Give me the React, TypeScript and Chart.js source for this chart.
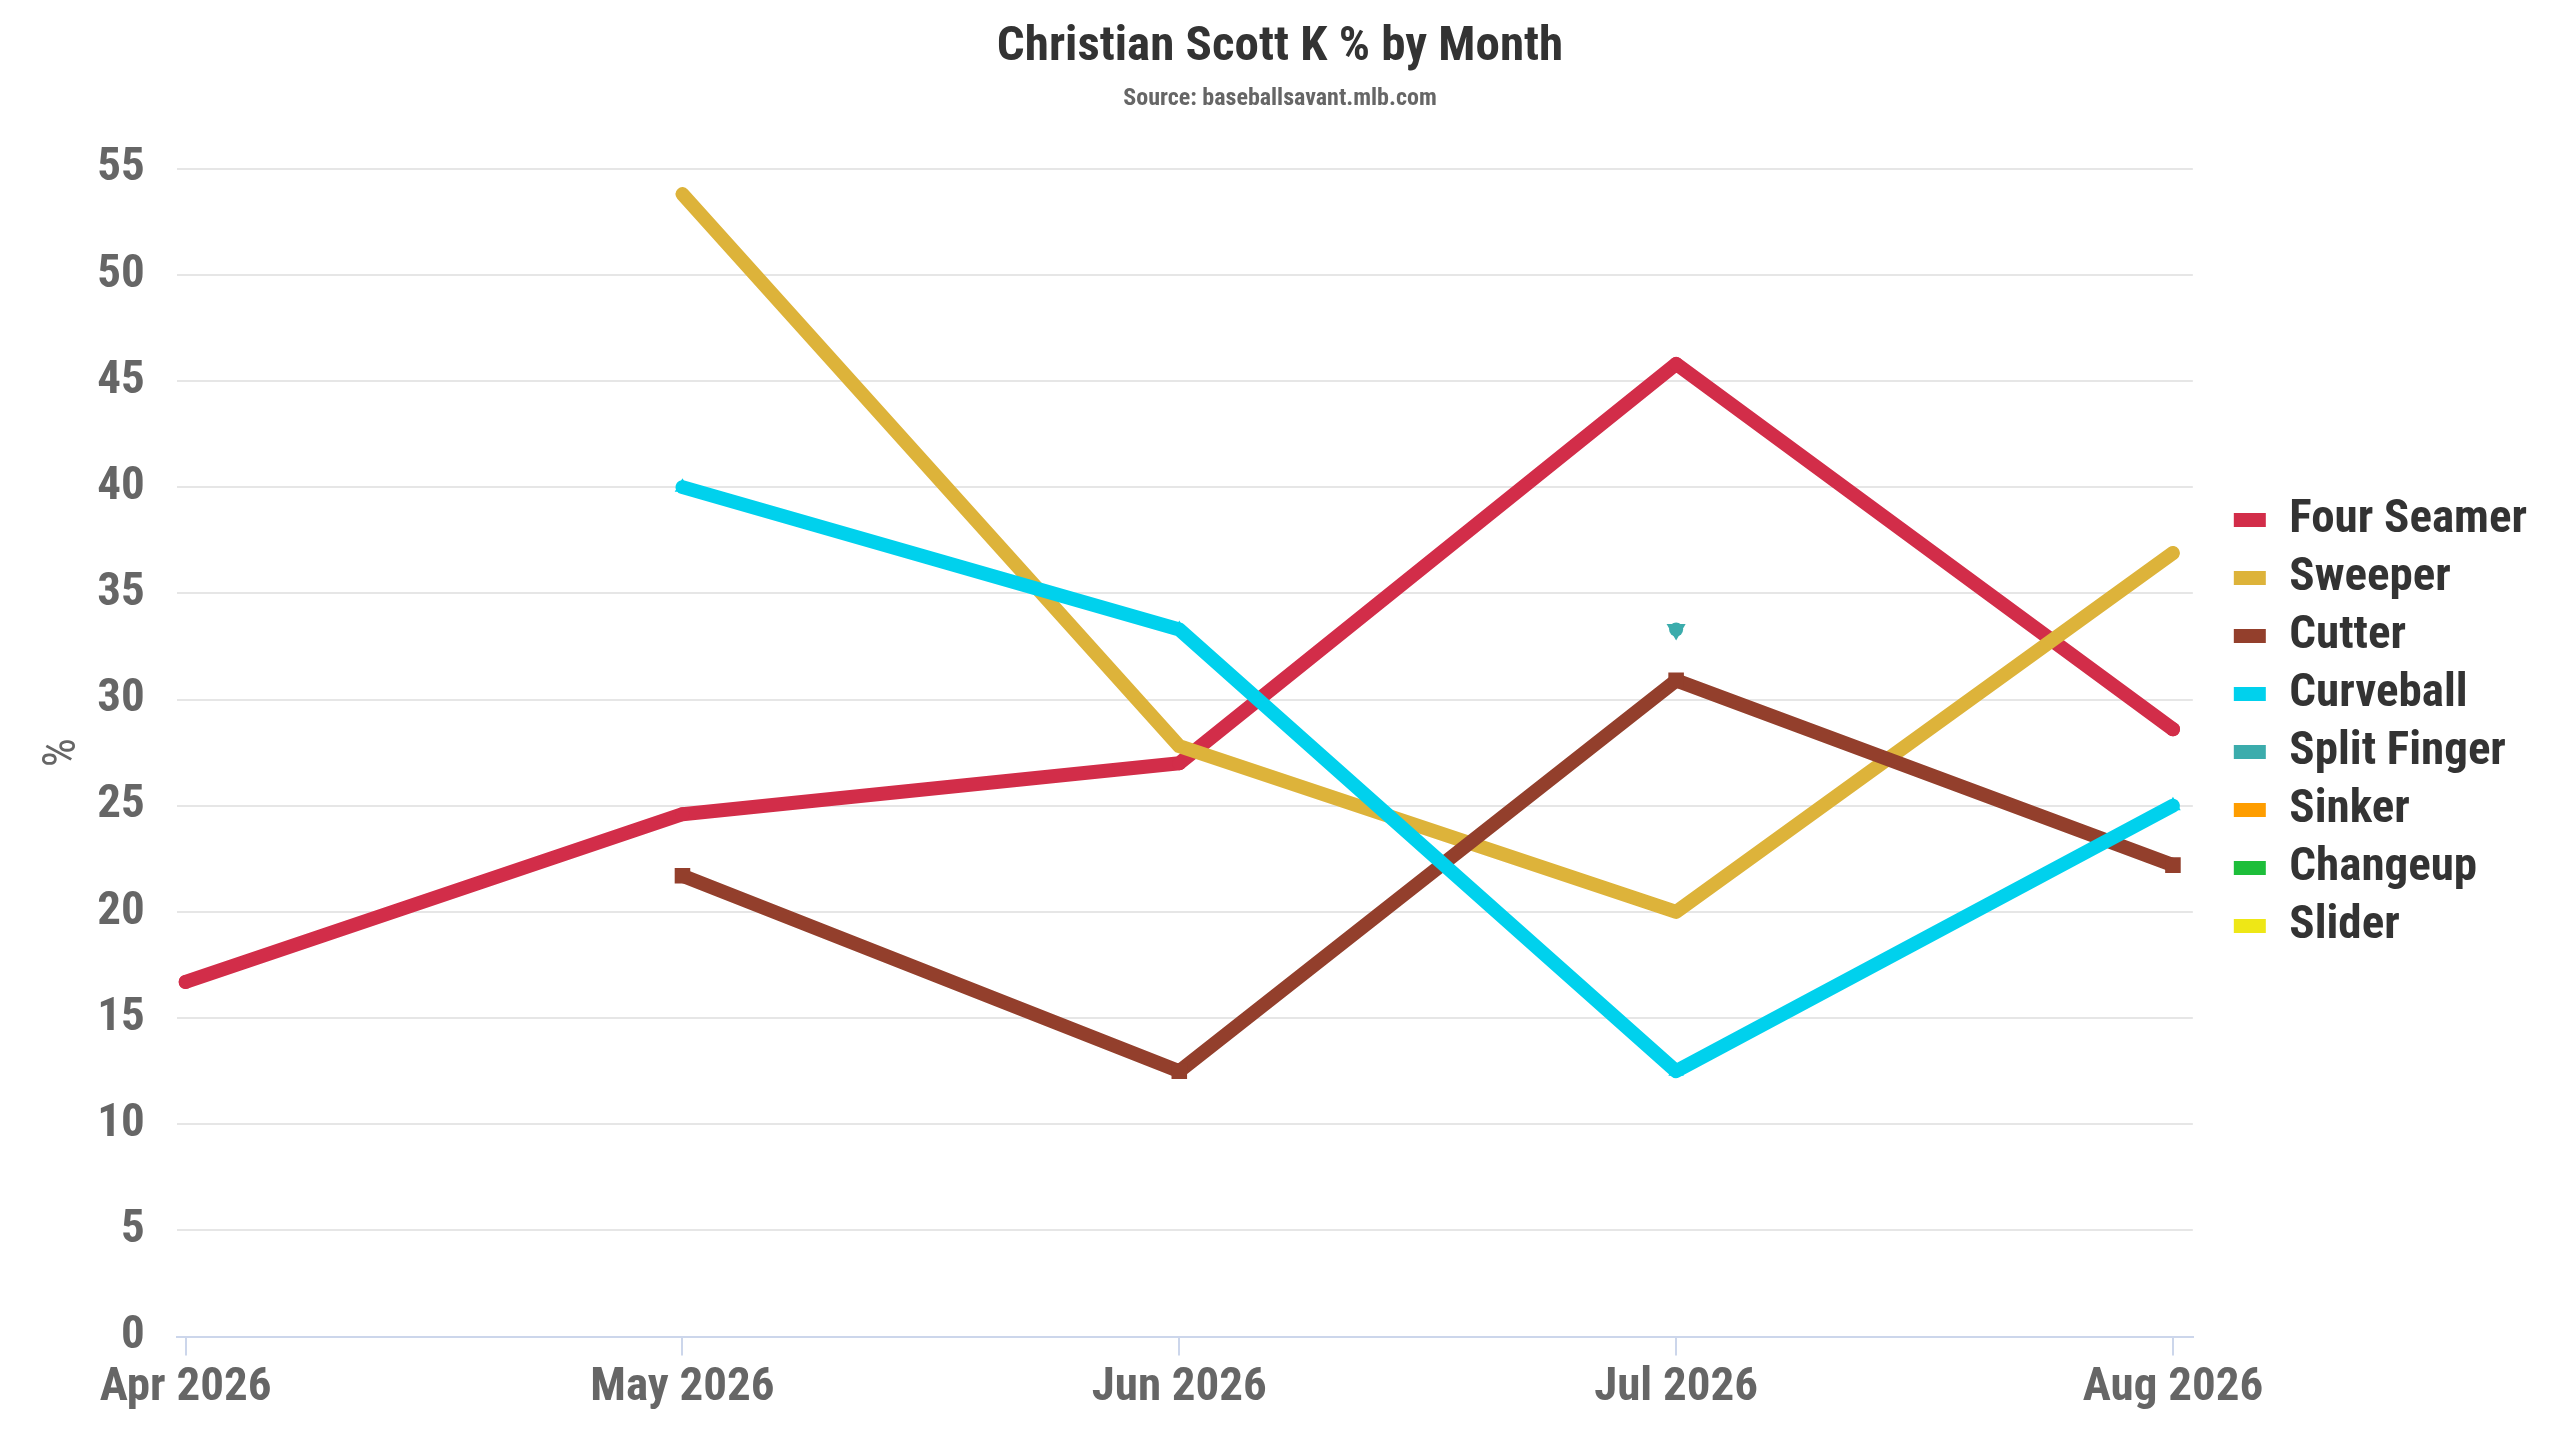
import { useEffect, useRef } from "react";
import { Chart, registerables, ChartConfiguration, Plugin } from "chart.js";

Chart.register(...registerables);

const months = ["Apr 2026", "May 2026", "Jun 2026", "Jul 2026", "Aug 2026"];

const fourSeamer = [16.7, 24.6, 27.0, 45.8, 28.6];
const sweeper = [null, 53.8, 27.8, 20.0, 36.9];
const cutter = [null, 21.7, 12.5, 30.9, 22.2];
const curveball = [null, 40.0, 33.3, 12.5, 25.0];
const splitFinger = [null, null, null, 33.3, null];
const sinker = [null, null, null, null, null];
const changeup = [null, null, null, null, null];
const slider = [null, null, null, null, null];

const FONT = "'Roboto Condensed', 'Liberation Sans Narrow', 'DejaVu Sans Condensed', Roboto, sans-serif";

// titles centred on the whole canvas, legend centred vertically and nudged right
const placeBoxes: Plugin = {
  id: "placeBoxes",
  afterLayout(chart) {
    chart.boxes.forEach((box: any) => {
      if (box.position === "top") {
        box.left = 0;
        box.right = chart.width;
      }
    });
    const lg: any = chart.legend;
    if (!lg) return;
    const h = lg.bottom - lg.top;
    lg.top = (chart.height - h) / 2 + 3;
    lg.bottom = lg.top + h;
    lg.left += 30;
    lg.right += 30;
  },
};

export default function App() {
  const canvasRef = useRef<HTMLCanvasElement>(null);
  const chartRef = useRef<Chart | null>(null);

  useEffect(() => {
    if (!canvasRef.current) return;
    if (chartRef.current) chartRef.current.destroy();

    const series = [
      { label: "Four Seamer", data: fourSeamer, color: "#D22D49", style: "circle", r: 7 },
      { label: "Sweeper", data: sweeper, color: "#DDB33A", style: "rectRot", r: 7 },
      { label: "Cutter", data: cutter, color: "#933F2C", style: "rect", r: 11 },
      { label: "Curveball", data: curveball, color: "#00D1ED", style: "triangle", r: 9 },
      { label: "Split Finger", data: splitFinger, color: "#3BACAC", style: "triangle", r: 11 },
      { label: "Sinker", data: sinker, color: "#FE9D00", style: "circle", r: 7 },
      { label: "Changeup", data: changeup, color: "#1DBE3A", style: "rectRot", r: 7 },
      { label: "Slider", data: slider, color: "#EEE716", style: "rect", r: 7 },
    ];

    const config: ChartConfiguration<"line"> = {
      type: "line",
      data: {
        datasets: series.map((s, i) => ({
          label: s.label,
          data: s.data.map((y, x) => ({ x, y })) as any,
          borderColor: s.color,
          backgroundColor: s.color,
          borderWidth: 14,
          borderCapStyle: "round",
          borderJoinStyle: "round",
          pointStyle: s.style as any,
          pointRotation: s.label === "Split Finger" ? 180 : 0,
          pointRadius: s.r,
          pointBorderWidth: 0,
          order: series.length - i,
        })),
      },
      options: {
        animation: false,
        responsive: true,
        maintainAspectRatio: false,
        layout: { padding: { left: 0, right: 53, bottom: 20, top: 0 } },
        scales: {
          x: {
            type: "linear",
            min: -0.018,
            max: 4.04,
            afterBuildTicks: (axis) => {
              axis.ticks = months.map((_, i) => ({ value: i }));
            },
            grid: {
              drawOnChartArea: false,
              drawTicks: true,
              tickLength: 19,
              color: "#ccd6eb",
              lineWidth: 2,
            },
            border: { display: true, color: "#ccd6eb", width: 2 },
            ticks: {
              autoSkip: false,
              maxRotation: 0,
              padding: 4,
              color: "#666666",
              font: { family: FONT, size: 47, weight: "bold" },
              callback: (v) => months[Number(v)] ?? "",
            },
          },
          y: {
            min: 0,
            max: 55,
            title: {
              display: true,
              text: "%",
              color: "#666666",
              padding: { top: 36, bottom: -26 },
              font: { family: FONT, size: 46, weight: "normal" },
            },
            grid: { color: "#e6e6e6", lineWidth: 2, drawTicks: false },
            border: { display: false },
            ticks: {
              stepSize: 5,
              padding: 32,
              color: "#666666",
              font: { family: FONT, size: 47, weight: "bold" },
            },
          },
        },
        plugins: {
          title: {
            display: true,
            text: "Christian Scott K % by Month",
            color: "#333333",
            padding: { top: 18, bottom: 8 },
            font: { family: FONT, size: 49, weight: "bold" },
          },
          subtitle: {
            display: true,
            text: "Source: baseballsavant.mlb.com",
            color: "#666666",
            padding: { top: 0, bottom: 55 },
            font: { family: FONT, size: 24, weight: "bold" },
          },
          legend: {
            position: "right",
            align: "center",
            labels: {
              boxWidth: 32,
              boxHeight: 14,
              padding: 11,
              color: "#333333",
              font: { family: FONT, size: 47, weight: "bold" },
              generateLabels: (chart) =>
                Chart.defaults.plugins.legend.labels
                  .generateLabels(chart)
                  .map((item) => ({ ...item, lineWidth: 0 }))
                  .sort((a, b) => (a.datasetIndex ?? 0) - (b.datasetIndex ?? 0)),
            },
          },
          tooltip: { enabled: false },
        },
      },
      plugins: [placeBoxes],
    };

    chartRef.current = new Chart(canvasRef.current, config);

    return () => {
      if (chartRef.current) {
        chartRef.current.destroy();
        chartRef.current = null;
      }
    };
  }, []);

  return (
    <div style={{ position: "fixed", left: 0, top: 0, width: "100vw", height: "100vh", background: "#ffffff" }}>
      <canvas ref={canvasRef} />
    </div>
  );
}
